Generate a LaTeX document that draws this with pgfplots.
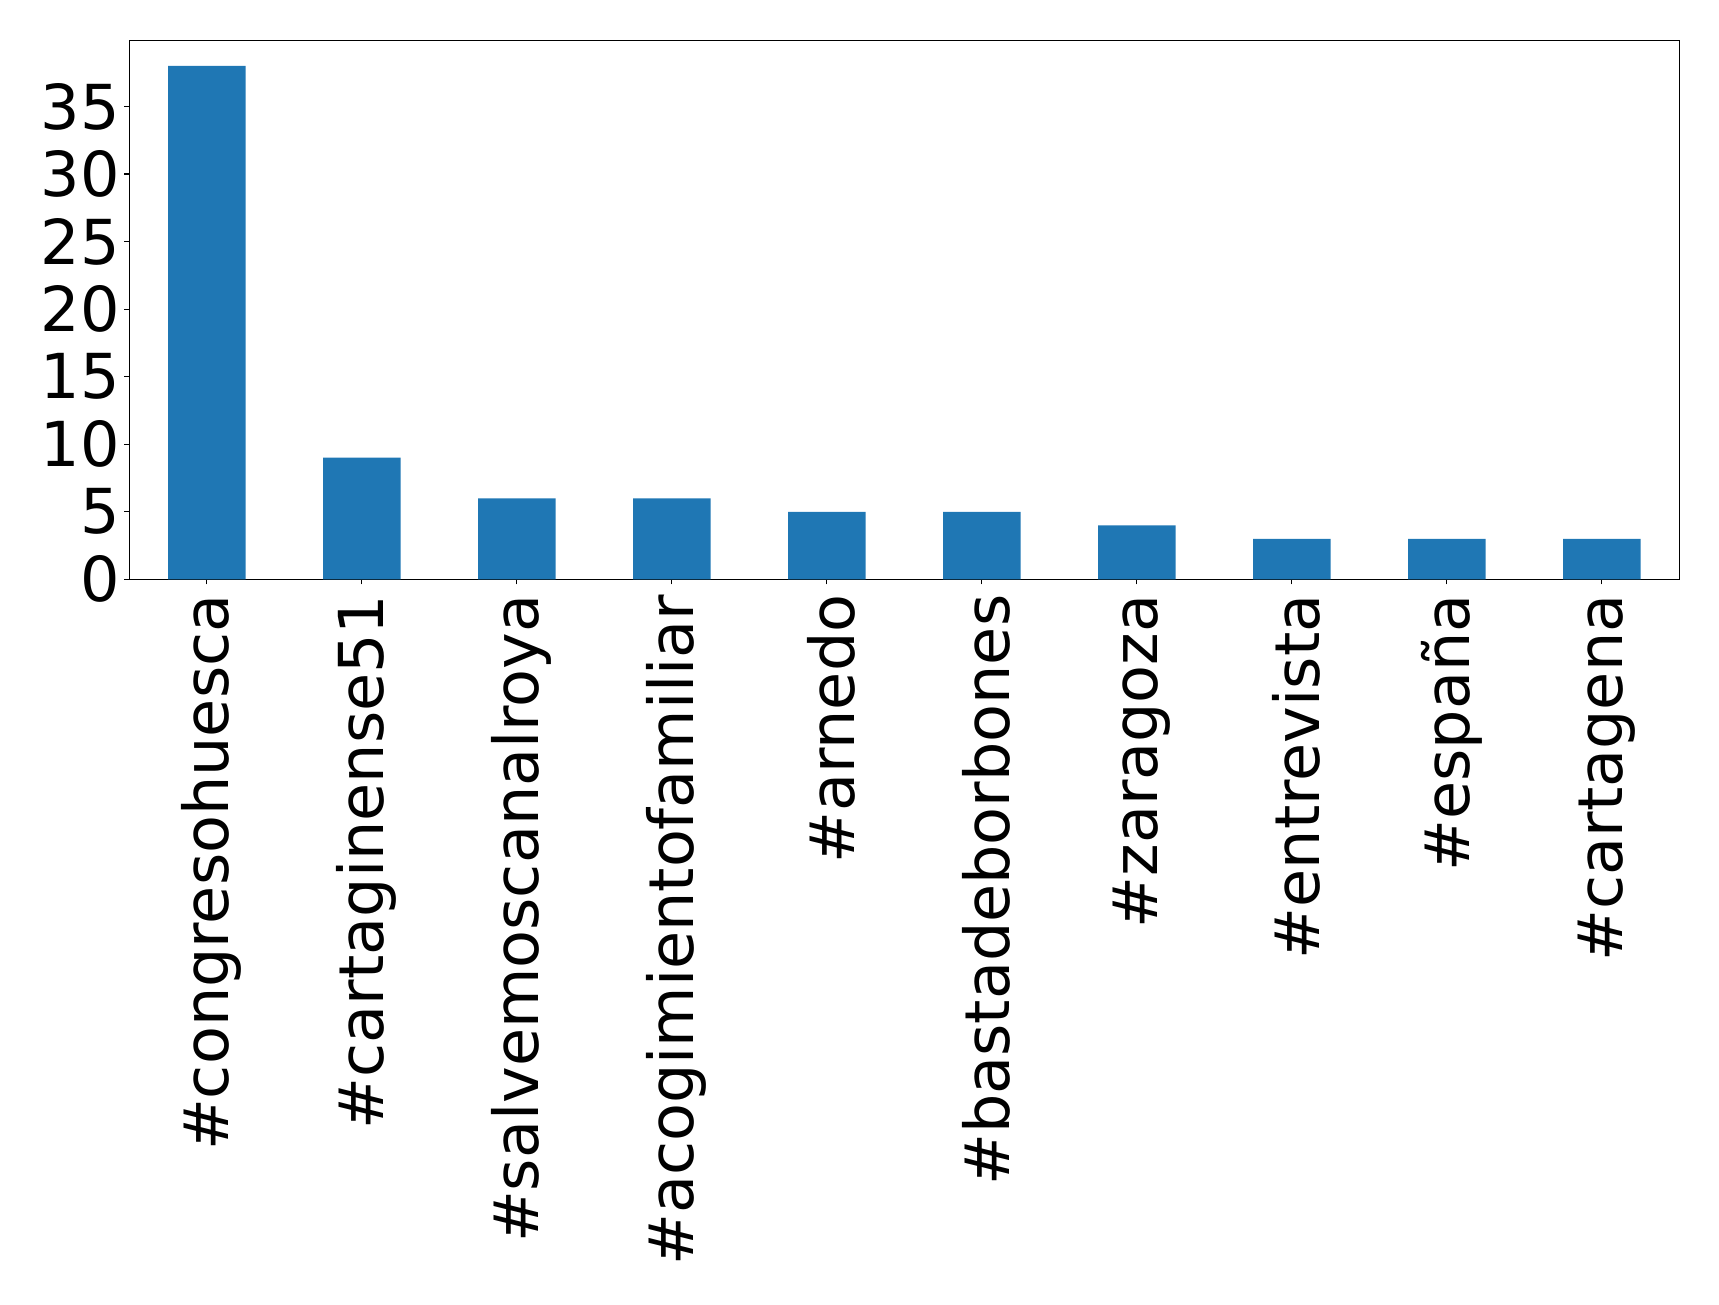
\documentclass[border=0pt]{standalone}
\usepackage{pgfplots}
\pgfplotsset{compat=1.18}
\usepackage{fontspec}
\setmainfont{DejaVu Sans}
\definecolor{mplblue}{HTML}{1F77B4}
\begin{document}
\begin{tikzpicture}
\begin{axis}[
  at={(0,0)}, anchor=south west,
  scale only axis,
  width=775pt, height=269.5pt,
  xmin=-0.5, xmax=9.5, ymin=0, ymax=39.9,
  axis line style={line width=0.6pt},
  tick style={line width=0.6pt, black},
  tick align=outside,
  major tick length=2.5pt,
  xtick={0,...,9},
  xticklabels={\#congresohuesca,\#cartaginense51,\#salvemoscanalroya,\#acogimientofamiliar,\#arnedo,\#bastadeborbones,\#zaragoza,\#entrevista,\#españa,\#cartagena},
  ytick={0,5,10,15,20,25,30,35},
  xtick pos=bottom, ytick pos=left,
  /pgf/number format/assume math mode=true,
  ticklabel style={font=\fontsize{31}{37}\selectfont},
  yticklabel style={inner xsep=2.2pt, inner ysep=0pt},
  xticklabel style={xshift=2.5pt, rotate=90, anchor=east, inner xsep=5pt, inner ysep=0pt},
]
\addplot[ybar, bar width=0.5, fill=mplblue, draw=none] coordinates {
  (0,38) (1,9) (2,6) (3,6) (4,5) (5,5) (6,4) (7,3) (8,3) (9,3)
};
\end{axis}
\pgfresetboundingbox
\useasboundingbox (-64.65pt,-362.85pt) rectangle (794.85pt,289.65pt);
\end{tikzpicture}
\end{document}
